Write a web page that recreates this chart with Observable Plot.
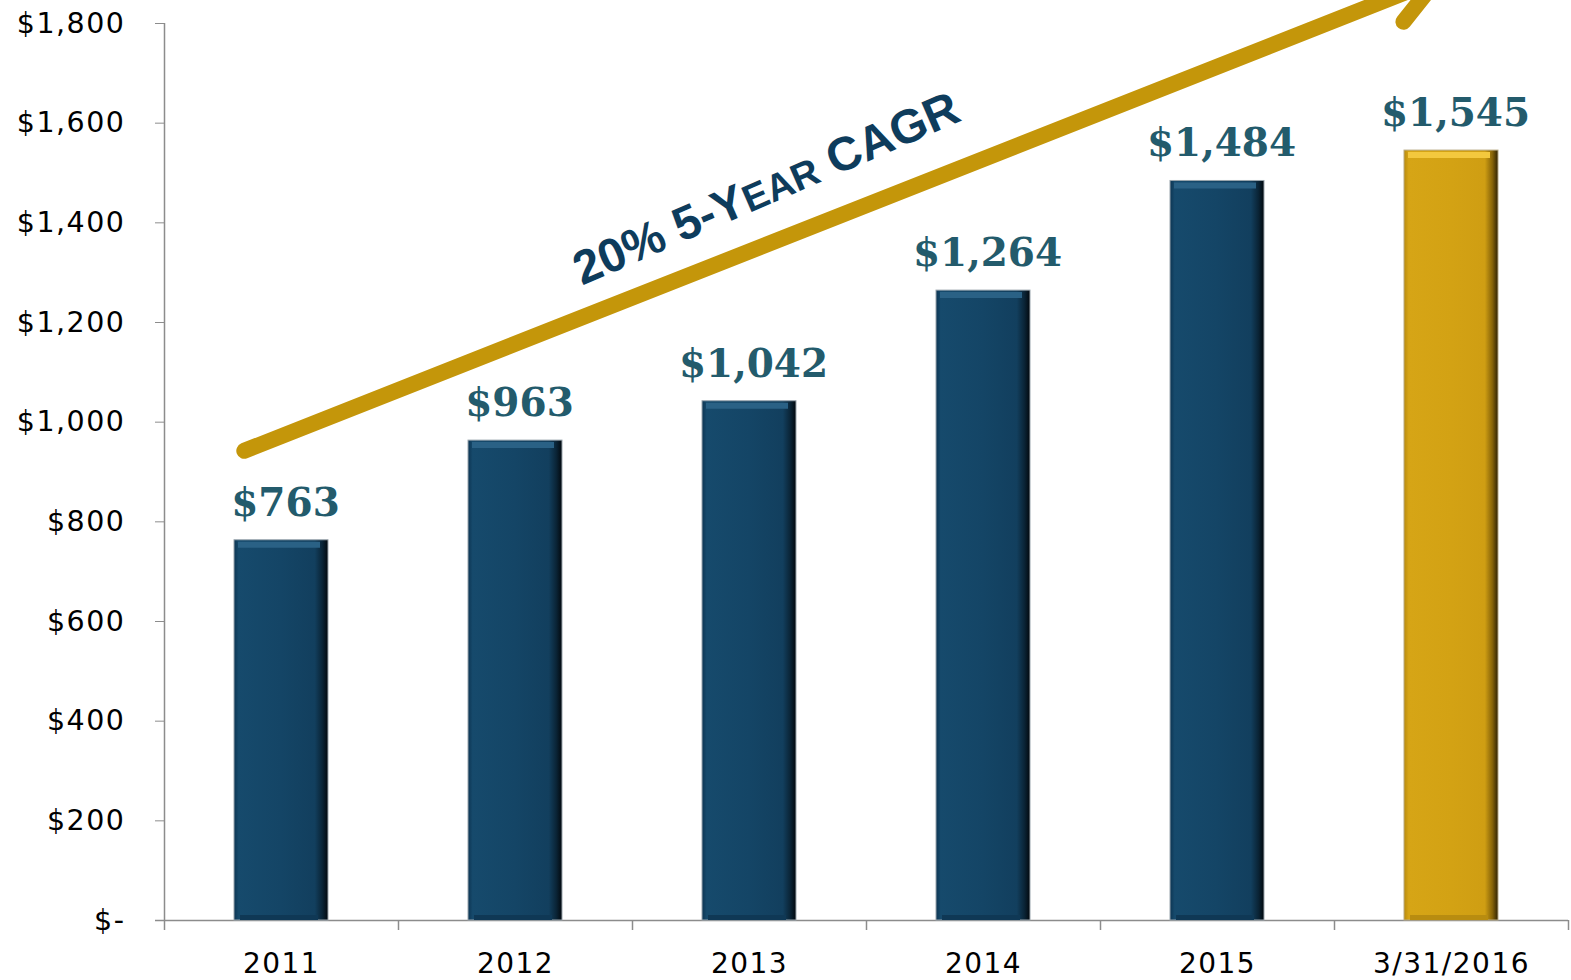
<!DOCTYPE html>
<html>
<head>
<meta charset="utf-8">
<script src="https://cdn.jsdelivr.net/npm/d3@7"></script>
<script src="https://cdn.jsdelivr.net/npm/@observablehq/plot@0.6"></script>
<style>
  html, body { margin: 0; padding: 0; background: #fff; overflow: hidden; }
  #chart svg { display: block; }
  #chart g[aria-label$="tick label"] { letter-spacing: 1.5px; }
</style>
</head>
<body>
<div id="chart"></div>
<script>
// ---- data ----
const categories = ["2011", "2012", "2013", "2014", "2015", "3/31/2016"];
const values = [763, 963, 1042, 1264, 1484, 1545];
const yTicks = [0, 200, 400, 600, 800, 1000, 1200, 1400, 1600, 1800];
// trend arrow annotation (category, value) at start and end
const trendCategories = ["2011", "3/31/2016"];
const trendValues = [972, 1899];
const trendLabel = "20% 5-YEAR CAGR";
const trendLabelSmall = "EAR"; // set in small capitals
const trendLabelCategory = "2013";
const trendLabelValue = 1468;

// ---- layout ----
const W = 1571, H = 980;
const mL = 164, mR = 3, mT = 23, mB = 60;
const step = (W - mL - mR) / categories.length;

const rows = categories.map((c, i) => ({category: c, value: values[i], current: i === categories.length - 1}));
const fmt = v => v === 0 ? "$-" : "$" + d3.format(",")(v);
const axisGray = "#8c8c8c";

const chart = Plot.plot({
  width: W,
  height: H,
  marginLeft: mL,
  marginRight: mR,
  marginTop: mT,
  marginBottom: mB,
  style: {fontFamily: "DejaVu Sans", fontSize: "28px", color: "#000", background: "#fff"},
  x: {type: "band", domain: categories, paddingInner: 0.6, paddingOuter: 0.3, label: null},
  y: {domain: [0, 1800], label: null},
  marks: [
    // axes
    Plot.axisY({ticks: yTicks, tickFormat: fmt, tickSize: 9, tickPadding: 30, stroke: axisGray, fill: "#000", fontSize: 28.5, label: null}),
    Plot.axisX({tickSize: 0, tickPadding: 33, fill: "#000", fontSize: 28, label: null}),
    Plot.ruleX([categories[0]], {dx: -step / 2, y1: 0, y2: 1800, stroke: axisGray, strokeWidth: 1.5}),
    Plot.ruleY([0], {stroke: axisGray, strokeWidth: 1.5, insetLeft: -9}),
    Plot.ruleX(categories, {dx: -step / 2, y1: 0, y2: 0, insetBottom: -10, stroke: axisGray, strokeWidth: 1.5}),
    Plot.ruleX([categories[categories.length - 1]], {dx: step / 2, y1: 0, y2: 0, insetBottom: -10, stroke: axisGray, strokeWidth: 1.5}),
    // bars
    Plot.barY(rows.filter(d => !d.current), {x: "category", y: "value", fill: "url(#navyBar)", stroke: "#9aa5ad", strokeWidth: 1}),
    Plot.barY(rows.filter(d => d.current), {x: "category", y: "value", fill: "url(#goldBar)", stroke: "#b9ab85", strokeWidth: 1}),
    // bevel highlights
    Plot.tickY(rows.filter(d => !d.current), {x: "category", y: "value", stroke: "#2a6185", strokeWidth: 6, dy: 4.5, insetLeft: 4, insetRight: 8}),
    Plot.tickY(rows.filter(d => d.current), {x: "category", y: "value", stroke: "#f3c83e", strokeWidth: 6, dy: 4.5, insetLeft: 4, insetRight: 8}),
    Plot.tickY(rows.filter(d => !d.current), {x: "category", y: 0, stroke: "#0f3855", strokeWidth: 5, dy: -3, insetLeft: 6, insetRight: 10}),
    Plot.tickY(rows.filter(d => d.current), {x: "category", y: 0, stroke: "#b88c10", strokeWidth: 5, dy: -3, insetLeft: 6, insetRight: 10}),
    // value labels
    Plot.text(rows, {x: "category", y: "value", text: d => fmt(d.value), dy: -37, dx: 4,
      fill: "#235b6c", fontFamily: "DejaVu Serif", fontWeight: "bold", fontSize: 39}),
    // trend arrow
    Plot.arrow([0], {
      x1: () => trendCategories[0], y1: () => trendValues[0],
      x2: () => trendCategories[1], y2: () => trendValues[1],
      stroke: "#c4960a", strokeWidth: 16, headAngle: 60, headLength: 5,
      insetStart: -40, insetEnd: 16
    }),
    Plot.text([trendLabel], {
      x: () => trendLabelCategory, y: () => trendLabelValue, text: d => d,
      dx: 17, rotate: -23.5, fill: "#0e3c5c",
      fontFamily: "Liberation Sans", fontWeight: "bold", fontSize: 47.5
    })
  ]
});

const svg = d3.select(chart.tagName.toLowerCase() === "svg" ? chart : chart.querySelector("svg"));

// small capitals in the trend label
svg.selectAll("text").filter(function() { return this.textContent === trendLabel; }).each(function() {
  const t = d3.select(this);
  const k = trendLabel.indexOf(trendLabelSmall);
  const parts = [trendLabel.slice(0, k), trendLabelSmall, trendLabel.slice(k + trendLabelSmall.length)];
  t.text(null);
  t.append("tspan").text(parts[0]);
  t.append("tspan").attr("font-size", "0.8em").text(parts[1]);
  t.append("tspan").text(parts[2]);
});

// gradients for the bevelled bars
const defs = svg.insert("defs", ":first-child");
function grad(id, stops) {
  const g = defs.append("linearGradient").attr("id", id)
    .attr("x1", 0).attr("x2", 1).attr("y1", 0).attr("y2", 0);
  stops.forEach(([o, c]) => g.append("stop").attr("offset", o).attr("stop-color", c));
}
grad("navyBar", [[0, "#0d3553"], [0.05, "#164a6c"], [0.5, "#144566"], [0.86, "#123f5e"], [0.94, "#0a2436"], [1, "#02080d"]]);
grad("goldBar", [[0, "#b88a0e"], [0.05, "#d6a516"], [0.5, "#d3a214"], [0.86, "#cf9e13"], [0.94, "#866308"], [1, "#2e2103"]]);

document.getElementById("chart").appendChild(chart);
</script>
</body>
</html>
